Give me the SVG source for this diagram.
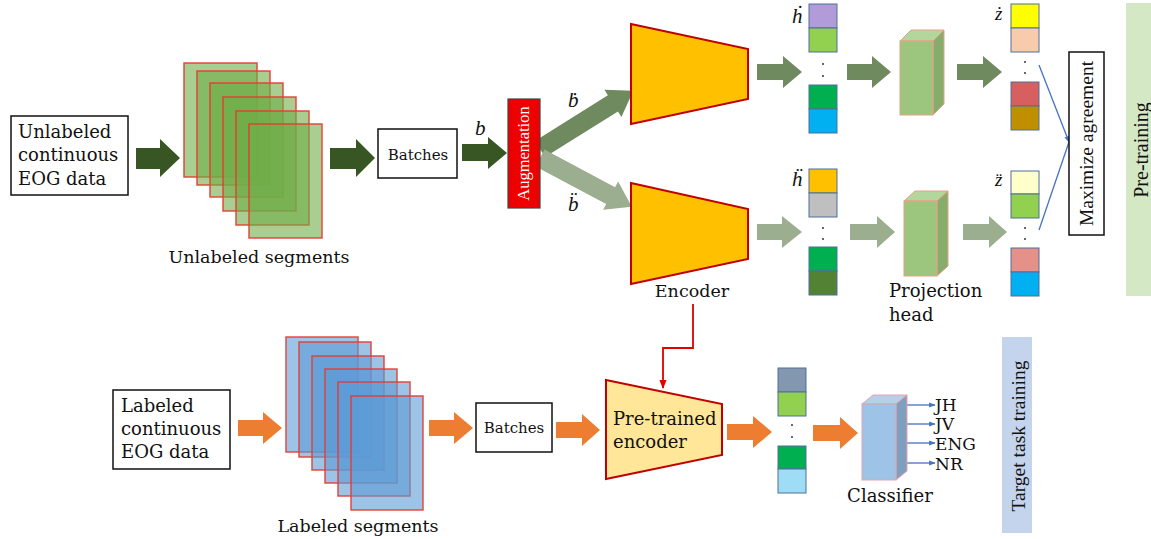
<svg xmlns="http://www.w3.org/2000/svg" width="1151" height="539" viewBox="0 0 1151 539">
<style>
.t{font-family:"DejaVu Serif","Liberation Serif",serif;fill:#111}
.tm{font-family:"Liberation Serif","Times New Roman",serif;fill:#111}
.mi{font-family:"Liberation Serif","Times New Roman",serif;font-style:italic;fill:#111}
.box{fill:#fff;stroke:#111;stroke-width:1.5}
.dg{fill:#375623}
.ug{fill:#6e8a5e}
.lg{fill:#9cae90}
.or{fill:#ed7d31}
.gs{fill:#70ad47;fill-opacity:.6;stroke:#e53a30;stroke-width:1.5;stroke-opacity:.9}
.bs{fill:#5b9bd5;fill-opacity:.6;stroke:#e53a30;stroke-width:1.5;stroke-opacity:.9}
.enc{fill:#ffc000;stroke:#c00000;stroke-width:2}
.cell{stroke:#4f6f9a;stroke-width:1}
.pf{fill:#9cc67e;stroke:#e8a088;stroke-width:1}
.ps{fill:#86ad6b;stroke:#e8a088;stroke-width:1}
.pt{fill:#b3d69c;stroke:#e8a088;stroke-width:1}
.cf{fill:#9dc3e6;stroke:#e8a0b0;stroke-width:1}
.cs{fill:#7f9fbf;stroke:#e8a0b0;stroke-width:1}
.ct{fill:#b6d0ea;stroke:#e8a0b0;stroke-width:1}
.dot{fill:#222}
</style>
<defs>
<marker id="ba" viewBox="0 0 10 10" refX="9" refY="5" markerWidth="5" markerHeight="5" orient="auto">
<path d="M0,1 L10,5 L0,9 z" fill="#4472c4"/>
</marker>
<marker id="ra" viewBox="0 0 10 10" refX="9" refY="5" markerWidth="5" markerHeight="5" orient="auto">
<path d="M0,1 L10,5 L0,9 z" fill="#e00000"/>
</marker>
</defs>

<!-- background bands -->
<g id="pretraining-band">
<rect x="1126" y="3" width="25" height="293" fill="#d5e8c6"/>
<text class="tm" font-size="20" text-anchor="middle" transform="translate(1148,150) rotate(-90)">Pre-training</text>
</g>
<g id="target-band">
<rect x="1002" y="337" width="30" height="196" fill="#c3d4ec"/>
<text class="tm" font-size="19.5" text-anchor="middle" transform="translate(1025,436) rotate(-90)">Target task training</text>
</g>

<!-- connectors -->
<g id="connectors">
<polygon class="dg" points="136,148 160,148 160,139 180,158 160,177 160,169 136,169"/>
<polygon class="dg" points="330,148 356,148 356,139 375,158 356,177 356,169 330,169"/>
<polygon class="dg" points="462,144 488,144 488,137 507,153 488,169 488,161 462,161"/>
<polygon class="ug" transform="translate(540,149) rotate(-32)" points="0,-9.5 86,-9.5 86,-16 110,0 86,16 86,9.5 0,9.5"/>
<polygon class="lg" transform="translate(540,158) rotate(28)" points="0,-9.5 80,-9.5 80,-16 104,0 80,16 80,9.5 0,9.5"/>
<polygon class="ug" points="757,64 783,64 783,56 802,72 783,88 783,80 757,80"/>
<polygon class="ug" points="847,64 872,64 872,56 891,72 872,88 872,80 847,80"/>
<polygon class="ug" points="957,64 983,64 983,56 1002,72 983,88 983,80 957,80"/>
<polygon class="lg" points="757,224 782,224 782,216 802,232 782,248 782,240 757,240"/>
<polygon class="lg" points="850,224 877,224 877,216 895,232 877,248 877,240 850,240"/>
<polygon class="lg" points="963,224 989,224 989,216 1007,232 989,248 989,240 963,240"/>
<polyline points="1039,65 1069,142" fill="none" stroke="#4472c4" stroke-width="1.3" marker-end="url(#ba)"/>
<polyline points="1039,230 1069,142" fill="none" stroke="#4472c4" stroke-width="1.3"/>
<polyline points="693,304 693,348 663,348 663,388" fill="none" stroke="#e00000" stroke-width="1.8" marker-end="url(#ra)"/>
<polygon class="or" points="238,420 263,420 263,412 282,428 263,444 263,436 238,436"/>
<polygon class="or" points="429,420 454,420 454,412 473,428 454,444 454,436 429,436"/>
<polygon class="or" points="556,422 582,422 582,414 600,430 582,446 582,438 556,438"/>
<polygon class="or" points="727,424 753,424 753,416 772,432 753,448 753,440 727,440"/>
<polygon class="or" points="813,425 840,425 840,417 858,433 840,449 840,441 813,441"/>
<g stroke="#4472c4" stroke-width="1.3" fill="none">
<line x1="907" y1="405" x2="935" y2="405" marker-end="url(#ba)"/>
<line x1="907" y1="424" x2="935" y2="424" marker-end="url(#ba)"/>
<line x1="907" y1="443" x2="935" y2="443" marker-end="url(#ba)"/>
<line x1="907" y1="463" x2="935" y2="463" marker-end="url(#ba)"/>
</g>
</g>

<!-- top pipeline -->
<g id="unlabeled-data">
<rect class="box" x="11" y="116" width="117" height="79"/>
<text class="t" font-size="18" x="18" y="138">Unlabeled</text>
<text class="t" font-size="18" x="18" y="161">continuous</text>
<text class="t" font-size="18" x="18" y="185">EOG data</text>
</g>
<g id="unlabeled-segments">
<rect class="gs" x="184" y="63" width="73" height="114"/>
<rect class="gs" x="197" y="71" width="73" height="114"/>
<rect class="gs" x="210" y="83" width="73" height="114"/>
<rect class="gs" x="223" y="97" width="73" height="114"/>
<rect class="gs" x="236" y="111" width="73" height="114"/>
<rect class="gs" x="249" y="124" width="73" height="114"/>
<text class="t" font-size="17.5" x="259" y="263" text-anchor="middle">Unlabeled segments</text>
</g>
<g id="batches-top">
<rect class="box" x="378" y="129" width="79" height="49"/>
<text class="t" font-size="15" x="418" y="160" text-anchor="middle">Batches</text>
</g>
<text class="mi" font-size="21" x="475" y="135">b</text>
<g id="augmentation">
<rect x="508" y="99" width="32" height="109" fill="#ee0000" stroke="#444" stroke-width="1.2"/>
<text class="tm" font-size="16.5" style="fill:#fff" text-anchor="middle" transform="translate(529,153.5) rotate(-90)">Augmentation</text>
</g>
<text class="mi" font-size="21" x="568" y="107">ḃ</text>
<text class="mi" font-size="21" x="568" y="211">b̈</text>

<g id="encoder-top">
<polygon class="enc" points="631,24 748,49 748,99 631,124"/>
</g>
<g id="encoder-bottom">
<polygon class="enc" points="631,183 748,209 748,259 631,284"/>
<text class="t" font-size="17.5" x="692" y="297" text-anchor="middle">Encoder</text>
</g>

<g id="h-dot">
<text class="mi" font-size="21" x="792" y="23">ḣ</text>
<rect class="cell" x="809" y="4" width="28" height="24" fill="#b19cd9"/>
<rect class="cell" x="809" y="28" width="28" height="24" fill="#92d050"/>
<circle class="dot" cx="823" cy="64" r="0.9"/>
<circle class="dot" cx="823" cy="76" r="0.9"/>
<rect class="cell" x="809" y="85" width="28" height="24" fill="#00b050"/>
<rect class="cell" x="809" y="109" width="28" height="24" fill="#00b0f0"/>
</g>
<g id="h-ddot">
<text class="mi" font-size="21" x="792" y="186">ḧ</text>
<rect class="cell" x="809" y="169" width="28" height="24" fill="#ffc000"/>
<rect class="cell" x="809" y="193" width="28" height="24" fill="#bfbfbf"/>
<circle class="dot" cx="823" cy="228" r="0.9"/>
<circle class="dot" cx="823" cy="239" r="0.9"/>
<rect class="cell" x="809" y="247" width="28" height="24" fill="#00b050"/>
<rect class="cell" x="809" y="271" width="28" height="24" fill="#548235"/>
</g>

<g id="projection-top">
<polygon class="pt" points="900,41 911,30 944,30 933,41"/>
<polygon class="ps" points="933,41 944,30 944,104 933,115"/>
<rect class="pf" x="900" y="41" width="33" height="74"/>
</g>
<g id="projection-bottom">
<polygon class="pt" points="904,201 915,191 948,191 937,201"/>
<polygon class="ps" points="937,201 948,191 948,266 937,276"/>
<rect class="pf" x="904" y="201" width="33" height="75"/>
<text class="t" font-size="18" x="889" y="297">Projection</text>
<text class="t" font-size="18" x="889" y="321">head</text>
</g>

<g id="z-dot">
<text class="mi" font-size="19" x="995" y="20">ż</text>
<rect class="cell" x="1011" y="4" width="28" height="24" fill="#ffff00"/>
<rect class="cell" x="1011" y="28" width="28" height="24" fill="#f8cbad"/>
<circle class="dot" cx="1025" cy="62" r="0.9"/>
<circle class="dot" cx="1025" cy="73" r="0.9"/>
<rect class="cell" x="1011" y="82" width="28" height="24" fill="#d66060"/>
<rect class="cell" x="1011" y="106" width="28" height="24" fill="#bf8f00"/>
</g>
<g id="z-ddot">
<text class="mi" font-size="19" x="995" y="186">z̈</text>
<rect class="cell" x="1011" y="171" width="28" height="23" fill="#ffffcc"/>
<rect class="cell" x="1011" y="194" width="28" height="24" fill="#92d050"/>
<circle class="dot" cx="1025" cy="228" r="0.9"/>
<circle class="dot" cx="1025" cy="239" r="0.9"/>
<rect class="cell" x="1011" y="248" width="28" height="24" fill="#e6908a"/>
<rect class="cell" x="1011" y="272" width="28" height="24" fill="#00b0f0"/>
</g>

<g id="maximize-agreement">
<rect class="box" x="1069" y="52" width="35" height="183"/>
<text class="tm" font-size="19.5" text-anchor="middle" transform="translate(1093,143.5) rotate(-90)">Maximize agreement</text>
</g>

<!-- bottom pipeline -->
<g id="labeled-data">
<rect class="box" x="113" y="390" width="117" height="79"/>
<text class="t" font-size="18" x="121" y="412">Labeled</text>
<text class="t" font-size="18" x="121" y="435">continuous</text>
<text class="t" font-size="18" x="121" y="458">EOG data</text>
</g>
<g id="labeled-segments">
<rect class="bs" x="286" y="337" width="72" height="115"/>
<rect class="bs" x="299" y="342" width="72" height="115"/>
<rect class="bs" x="312" y="356" width="72" height="114"/>
<rect class="bs" x="325" y="369" width="72" height="114"/>
<rect class="bs" x="338" y="382" width="72" height="114"/>
<rect class="bs" x="351" y="396" width="72" height="114"/>
<text class="t" font-size="17.5" x="358" y="532" text-anchor="middle">Labeled segments</text>
</g>
<g id="batches-bottom">
<rect class="box" x="476" y="403" width="76" height="49"/>
<text class="t" font-size="15" x="514" y="433" text-anchor="middle">Batches</text>
</g>
<g id="pretrained-encoder">
<polygon points="606,380 722,404 722,455 606,479" fill="#ffe699" stroke="#c00000" stroke-width="2"/>
<text class="t" font-size="18" x="613" y="425">Pre-trained</text>
<text class="t" font-size="18" x="613" y="448">encoder</text>
</g>
<g id="features">
<rect class="cell" x="778" y="368" width="28" height="24" fill="#8497b0"/>
<rect class="cell" x="778" y="392" width="28" height="24" fill="#92d050"/>
<circle class="dot" cx="792" cy="425" r="0.9"/>
<circle class="dot" cx="792" cy="437" r="0.9"/>
<rect class="cell" x="778" y="446" width="28" height="23" fill="#00b050"/>
<rect class="cell" x="778" y="469" width="28" height="24" fill="#9fdcf5"/>
</g>
<g id="classifier">
<polygon class="ct" points="862,404 873,395 907,395 896,404"/>
<polygon class="cs" points="896,404 907,395 907,471 896,480"/>
<rect class="cf" x="862" y="404" width="34" height="76"/>
<text class="t" font-size="18" x="890" y="502" text-anchor="middle">Classifier</text>
</g>
<g id="labels">
<text class="t" font-size="17" x="935" y="410.5">JH</text>
<text class="t" font-size="17" x="935" y="430">JV</text>
<text class="t" font-size="17" x="935" y="449.5">ENG</text>
<text class="t" font-size="17" x="935" y="469.5">NR</text>
</g>
</svg>
